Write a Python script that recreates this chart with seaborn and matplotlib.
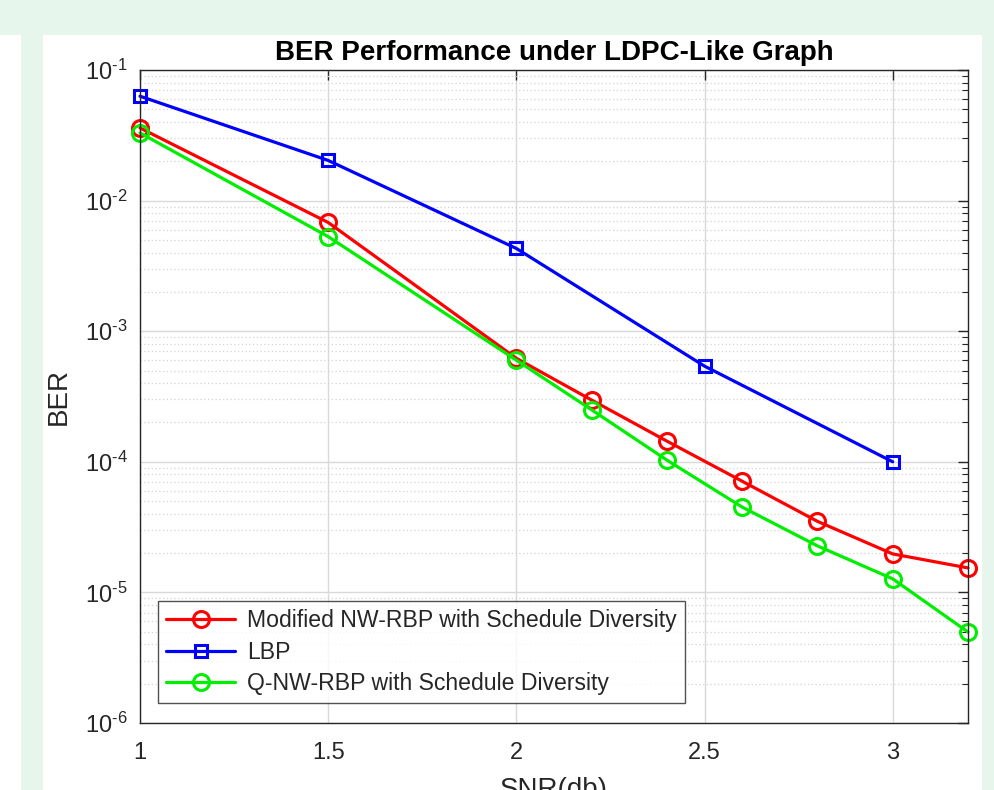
import numpy as np
import pandas as pd
import seaborn as sns
import matplotlib.pyplot as plt
from matplotlib.patches import Rectangle
from matplotlib.ticker import LogLocator, NullFormatter, FixedLocator, FuncFormatter

# BER curves
snr_nw = [1, 1.5, 2, 2.2, 2.4, 2.6, 2.8, 3, 3.2]
ber_modified = [0.036, 6.8e-3, 6.2e-4, 2.97e-4, 1.44e-4, 7.1e-5, 3.5e-5, 1.97e-5, 1.54e-5]
ber_qnw = [0.033, 5.3e-3, 6.0e-4, 2.5e-4, 1.03e-4, 4.5e-5, 2.27e-5, 1.27e-5, 4.97e-6]

snr_lbp = [1, 1.5, 2, 2.5, 3]
ber_lbp = [0.063, 0.0203, 4.3e-3, 5.4e-4, 1.0e-4]

labels = ['Modified NW-RBP with Schedule Diversity', 'LBP', 'Q-NW-RBP with Schedule Diversity']
x_ticks = [1, 1.5, 2, 2.5, 3]
x_tick_labels = ['1', '1.5', '2', '2.5', '3']

sns.set_style('white')
plt.rcParams['font.family'] = ['Liberation Sans', 'DejaVu Sans']
plt.rcParams['mathtext.fontset'] = 'custom'
plt.rcParams['mathtext.rm'] = 'Liberation Sans'
plt.rcParams['mathtext.it'] = 'Liberation Sans'


def decade_label(v, pos):
    # MATLAB style: 10 with a hyphen exponent
    e = int(round(np.log10(v)))
    sign = r'\text{-}' if e < 0 else ''
    return r'$\mathdefault{10^{%s%d}}$' % (sign, abs(e))


fig = plt.figure(figsize=(9.95, 7.9), dpi=100)
fig.patch.set_facecolor('#e6f6ec')
# white panel behind the chart and the strip at the left edge
fig.patches.append(Rectangle((43 / 995, 0), (982 - 43) / 995, 755 / 790,
                             transform=fig.transFigure, facecolor='white', edgecolor='none', zorder=-1))
fig.patches.append(Rectangle((0, 0), 21 / 995, 755 / 790,
                             transform=fig.transFigure, facecolor='white', edgecolor='none', zorder=-1))

ax = fig.add_axes([140 / 995, 67 / 790, 828 / 995, 653 / 790])

df_mod = pd.DataFrame({'SNR': snr_nw, 'BER': ber_modified})
df_lbp = pd.DataFrame({'SNR': snr_lbp, 'BER': ber_lbp})
df_q = pd.DataFrame({'SNR': snr_nw, 'BER': ber_qnw})

sns.lineplot(data=df_mod, x='SNR', y='BER', ax=ax, color='#ff0000', lw=2.3, clip_on=False,
             marker='o', ms=11.5, mfc='none', mec='#ff0000', mew=2.2, label=labels[0])
sns.lineplot(data=df_lbp, x='SNR', y='BER', ax=ax, color='#0000ff', lw=2.3, clip_on=False,
             marker='s', ms=9, mfc='none', mec='#0000ff', mew=2.2, label=labels[1])
sns.lineplot(data=df_q, x='SNR', y='BER', ax=ax, color='#00ee00', lw=2.3, clip_on=False,
             marker='o', ms=11.5, mfc='none', mec='#00ee00', mew=2.2, label=labels[2])

ax.set_yscale('log')
ax.set_xlim(1, 3.2)
ax.set_ylim(1e-6, 1e-1)
ax.xaxis.set_major_locator(FixedLocator(x_ticks))
ax.set_xticklabels(x_tick_labels)
ax.yaxis.set_major_locator(LogLocator(base=10, numticks=10))
ax.yaxis.set_major_formatter(FuncFormatter(decade_label))
ax.yaxis.set_minor_locator(LogLocator(base=10, subs=np.arange(2, 10), numticks=20))
ax.yaxis.set_minor_formatter(NullFormatter())

ax.grid(True, which='major', color='#d9d9d9', lw=1.0, ls='-')
ax.grid(True, which='minor', axis='y', color='#d4d4d4', lw=0.9, ls=(0, (1, 2)))
ax.set_axisbelow(True)

for s in ax.spines.values():
    s.set_color('#262626')
    s.set_linewidth(1.0)
ax.tick_params(which='both', direction='in', top=True, right=True, colors='#262626',
               labelsize=17, labelcolor='#262626')
ax.tick_params(which='major', length=7, width=1.0)
ax.tick_params(axis='x', which='major', pad=14)
ax.tick_params(axis='y', which='major', pad=9)
ax.tick_params(which='minor', length=4, width=0.8)

ax.set_title('BER Performance under LDPC-Like Graph', fontsize=20, fontweight='bold',
             color='black', pad=7)
ax.set_xlabel('SNR(db)', fontsize=20, color='#262626', labelpad=9)
ax.set_ylabel('BER', fontsize=20, color='#262626')
ax.yaxis.set_label_coords(-0.083, 0.5)

leg = ax.legend(loc='lower left', bbox_to_anchor=(0.022, 0.03), fontsize=16.6, frameon=True,
                fancybox=False, edgecolor='#262626', handlelength=3.0, borderpad=0.35,
                labelspacing=0.38, handletextpad=0.5, borderaxespad=0)
leg.get_frame().set_linewidth(1.0)

fig.savefig('out.png', dpi=100, facecolor=fig.get_facecolor())
